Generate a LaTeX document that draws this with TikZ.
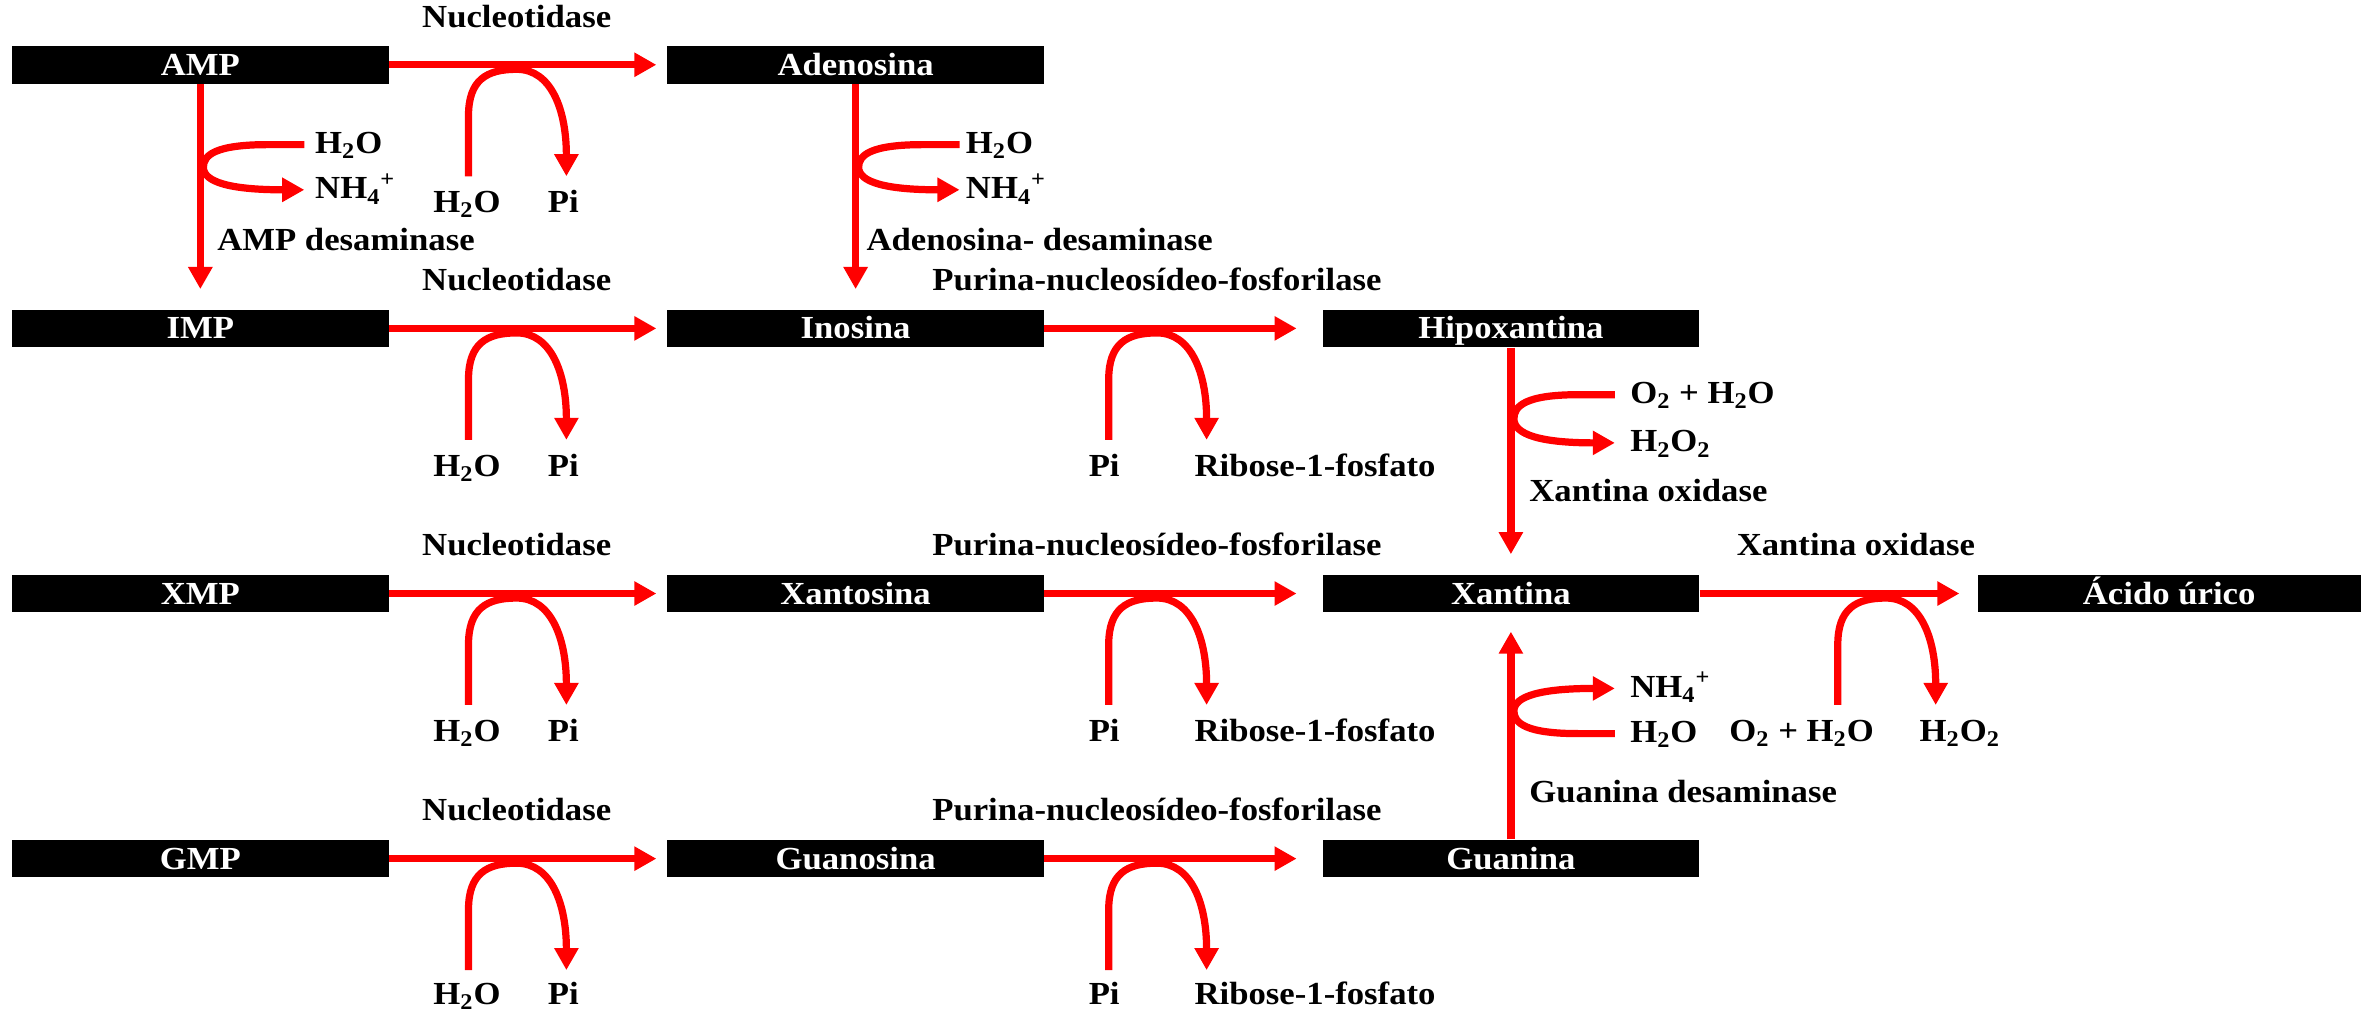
\documentclass[tikz,border=0pt]{standalone}
\usepackage{fontspec}
\setmainfont{Liberation Serif}[FakeStretch=1.08]
\usetikzlibrary{arrows.meta}
\definecolor{rxnred}{RGB}{255,0,0}

% side reaction arc under a horizontal arrow: left leg x, arrow y, name
\newcommand\sidearc[3]{%
  \coordinate (#3in) at (#1,#2+74);
  \coordinate (#3out) at (#1+65,#2+74);
  \draw[rxn] (#3in) -- (#1,#2+34) .. controls (#1,#2+10) and (#1+12,#2+3) .. (#1+32,#2+3)
    .. controls (#1+55,#2+3) and (#1+65,#2+30) .. (#3out);}

% side reaction loop beside a vertical arrow: arrow x, start y, end y, name
\newcommand\sideloop[4]{%
  \coordinate (#4in) at (#1+69,#2);
  \coordinate (#4out) at (#1+69,#3);
  \draw[rxn] (#4in) -- (#1+45,#2) .. controls (#1+10,#2) and (#1+2,{#2+(#3-#2)*0.23}) .. (#1+2,{(#2+#3)/2})
    .. controls (#1+2,{#3-(#3-#2)*0.17}) and (#1+20,#3) .. (#4out);}

\begin{document}
\begin{tikzpicture}[x=0.75pt,y=-0.75pt,
  font=\fontsize{16}{19}\selectfont\bfseries,
  metab/.style={fill=black,text=white,minimum width=187.5pt,minimum height=18.75pt,
    inner sep=0pt,text height=10.5pt,text depth=0pt},
  rxn/.style={draw=rxnred,line width=3.6pt,-{Triangle[length=11pt,width=11.5pt]}},
  lbl/.style={inner sep=0pt,anchor=base},
  lblw/.style={inner sep=0pt,anchor=base west},
]
\useasboundingbox (0,0) rectangle (1568,672);

% metabolites
\node[metab] (amp) at (133,43) {AMP};
\node[metab] (ade) at (568,43) {Adenosina};
\node[metab] (imp) at (133,218) {IMP};
\node[metab] (ino) at (568,218) {Inosina};
\node[metab] (hip) at (1003,218) {Hipoxantina};
\node[metab] (xmp) at (133,394) {XMP};
\node[metab] (xao) at (568,394) {Xantosina};
\node[metab] (xan) at (1003,394) {Xantina};
\node[metab,minimum width=190.5pt] (uri) at (1440,394) {Ácido úrico};
\node[metab] (gmp) at (133,570) {GMP};
\node[metab] (guo) at (568,570) {Guanosina};
\node[metab] (gua) at (1003,570) {Guanina};

% main reactions
\draw[rxn,shorten >=5.25pt] (amp.east) -- (ade.west);
\draw[rxn,shorten >=5.25pt] (imp.east) -- (ino.west);
\draw[rxn,shorten >=5.25pt] (xmp.east) -- (xao.west);
\draw[rxn,shorten >=5.25pt] (gmp.east) -- (guo.west);
\draw[rxn,shorten >=12.75pt] (ino.east) -- (hip.west);
\draw[rxn,shorten >=12.75pt] (xao.east) -- (xan.west);
\draw[rxn,shorten >=12.75pt] (guo.east) -- (gua.west);
\draw[rxn,shorten >=9pt] (xan.east) -- (uri.west);
\draw[rxn,shorten >=10pt] (amp.south) -- (imp.north);
\draw[rxn,shorten >=10pt] (ade.south) -- (ino.north);
\draw[rxn,shorten >=10pt] (hip.south) -- (xan.north);
\draw[rxn,shorten >=9.4pt] (gua.north) -- (xan.south);

% side reactions
\foreach \r/\y in {1/43,2/218,3/394,4/570}{\sidearc{311}{\y}{nuc\r}}
\foreach \r/\y in {2/218,3/394,4/570}{\sidearc{736}{\y}{pnp\r}}
\sidearc{1220}{394}{xo}
\sideloop{133}{96}{126}{ampd}
\sideloop{568}{96}{126}{ada}
\sideloop{1003}{262}{294}{xoh}
\sideloop{1003}{487}{457}{gda}

% enzyme labels
\foreach \r/\b in {1/18,2/193,3/369,4/545}{\node[lbl] (nucl\r) at (343,\b) {Nucleotidase};}
\foreach \r/\b in {2/193,3/369,4/545}{\node[lbl] (pnpl\r) at (768,\b) {Purina-nucleosídeo-fosforilase};}
\node[lbl] (xol) at (1232,369) {Xantina oxidase};
\node[lblw] (ampdl) at (144,166) {AMP desaminase};
\node[lblw] (adal) at (575,166) {Adenosina- desaminase};
\node[lblw] (xohl) at (1015,333) {Xantina oxidase};
\node[lblw] (gdal) at (1015,533) {Guanina desaminase};

% substrates and products
\foreach \r/\b in {1/141,2/316,3/492,4/667}{
  \node[lbl] (nucw\r) at (310,\b) {H\textsubscript{2}O};
  \node[lbl] (nucp\r) at (374,\b) {Pi};}
\foreach \r/\b in {2/316,3/492,4/667}{
  \node[lbl] (pnpp\r) at (733,\b) {Pi};
  \node[lbl] (pnpr\r) at (873,\b) {Ribose-1-fosfato};}
\node[lbl] (xoa) at (1196,492) {O\textsubscript{2} + H\textsubscript{2}O};
\node[lbl] (xob) at (1301,492) {H\textsubscript{2}O\textsubscript{2}};
\node[lblw] (ampdw) at (209,102) {H\textsubscript{2}O};
\node[lblw] (ampdn) at (209,132) {NH\textsubscript{4}\textsuperscript{+}};
\node[lblw] (adaw) at (641,102) {H\textsubscript{2}O};
\node[lblw] (adan) at (641,132) {NH\textsubscript{4}\textsuperscript{+}};
\node[lblw] (xoha) at (1082,268) {O\textsubscript{2} + H\textsubscript{2}O};
\node[lblw] (xohb) at (1082,300) {H\textsubscript{2}O\textsubscript{2}};
\node[lblw] (gdan) at (1082,463) {NH\textsubscript{4}\textsuperscript{+}};
\node[lblw] (gdaw) at (1082,493) {H\textsubscript{2}O};
\end{tikzpicture}
\end{document}
